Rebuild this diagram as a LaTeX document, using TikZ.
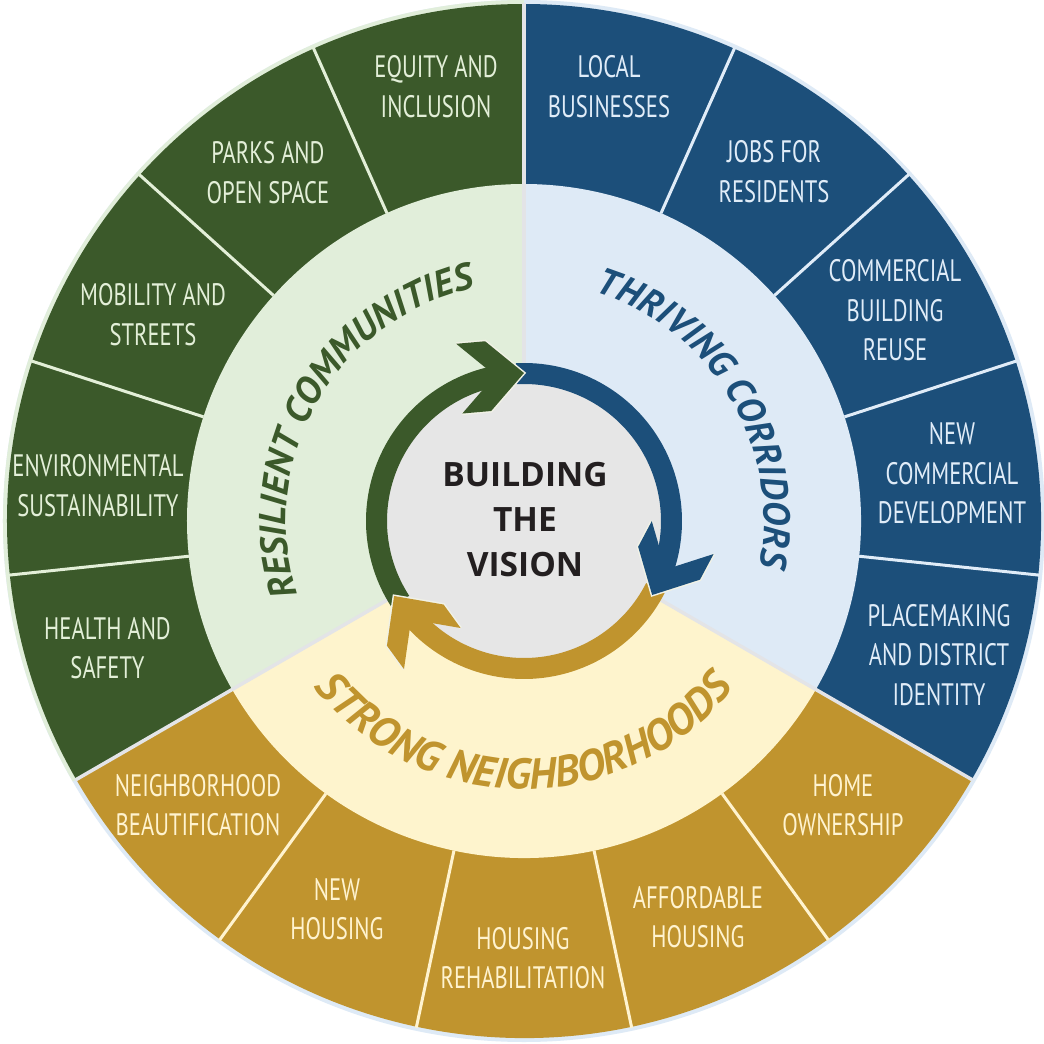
\documentclass[tikz,border=0pt]{standalone}
\usepackage{fontspec}
\usetikzlibrary{decorations.text}
\newfontfamily\condfont[FakeStretch=0.73]{PT Sans}
\newfontfamily\ringfont{PT Sans}
\newfontfamily\centerfont{Open Sans}
\definecolor{dgreen}{HTML}{3B592A}
\definecolor{dblue}{HTML}{1C4F7A}
\definecolor{dgold}{HTML}{C0942E}
\definecolor{lgreen}{HTML}{E1EEDA}
\definecolor{lblue}{HTML}{DEEAF6}
\definecolor{lgold}{HTML}{FEF4CD}
\definecolor{cgray}{HTML}{E6E6E6}
\definecolor{ctext}{HTML}{231F20}
\definecolor{tgreen}{HTML}{E3EFD8}
\definecolor{tblue}{HTML}{E0ECF8}
\definecolor{tgold}{HTML}{FFF3CF}
\definecolor{sepgray}{HTML}{E3E4E7}
\definecolor{headline}{HTML}{F1F2E6}
\begin{document}
\begin{tikzpicture}[x=1pt,y=1pt,
  seg/.style={font=\condfont\fontsize{31}{39.5}\selectfont, anchor=base, inner sep=0pt},
  centertext/.style={font=\centerfont\bfseries\fontsize{33.5}{45}\selectfont, text=ctext, anchor=base, inner sep=0pt},
  shaft/.style={line width=21pt},
  headrim/.style={draw=headline, line width=3pt, line join=miter}
]
\useasboundingbox (-524,-523) rectangle (520,521);
\fill[white] (-524,-523) rectangle (520,521);

% outer border
\fill[lblue] (0,0) circle[radius=521pt];
\fill[lgreen] (0,0) -- (90:521pt) arc[start angle=90, end angle=210, radius=521pt] -- cycle;

% outer segments
\fill[dgreen] (0,0) -- (90:517pt) arc[start angle=90, end angle=210, radius=517pt] -- cycle;
\fill[dblue] (0,0) -- (-30:517pt) arc[start angle=-30, end angle=90, radius=517pt] -- cycle;
\fill[dgold] (0,0) -- (210:517pt) arc[start angle=210, end angle=330, radius=517pt] -- cycle;

% middle ring
\fill[lgreen] (0,0) -- (90:337pt) arc[start angle=90, end angle=210, radius=337pt] -- cycle;
\fill[lblue] (0,0) -- (-30:337pt) arc[start angle=-30, end angle=90, radius=337pt] -- cycle;
\fill[lgold] (0,0) -- (210:337pt) arc[start angle=210, end angle=330, radius=337pt] -- cycle;

% separators
\foreach \a in {114,138,162,186} \draw[tgreen, line width=3pt] (\a:337pt) -- (\a:518pt);
\foreach \a in {66,42,18,-6} \draw[tblue, line width=3pt] (\a:337pt) -- (\a:518pt);
\foreach \a in {234,258,282,306} \draw[tgold, line width=3pt] (\a:337pt) -- (\a:518pt);
\foreach \a in {90,210,330} \draw[sepgray, line width=3.5pt] (\a:150pt) -- (\a:518pt);

% center
\fill[cgray] (0,0) circle[radius=140pt];

% shafts
\draw[shaft, dgreen] (213:147.5pt) arc[start angle=213, end angle=98, radius=147.5pt];
\draw[shaft, dblue] (93:147.5pt) arc[start angle=93, end angle=-22, radius=147.5pt];
\draw[shaft, dgold] (-27:147.5pt) arc[start angle=-27, end angle=-142, radius=147.5pt];

% heads
\begin{scope}[shift={(90:148pt)}, rotate=5]
  \draw[headrim] (-65,35) -- (-36,35) -- (0,0) -- (-36,-35) -- (-65,-35);
  \fill[dgreen] (0,0) -- (-36,35) -- (-65,35) -- (-29,0) -- (-65,-35) -- (-36,-35) -- cycle;
\end{scope}
\begin{scope}[shift={(-30:148pt)}, rotate=242]
  \draw[headrim] (-65,35) -- (-36,35) -- (0,0) -- (-36,-35) -- (-65,-35);
  \fill[dblue] (0,0) -- (-36,35) -- (-65,35) -- (-29,0) -- (-65,-35) -- (-36,-35) -- cycle;
\end{scope}
\begin{scope}[shift={(210:150pt)}, rotate=126]
  \draw[headrim] (-65,35) -- (-36,35) -- (0,0) -- (-36,-35) -- (-65,-35);
  \fill[dgold] (0,0) -- (-36,35) -- (-65,35) -- (-29,0) -- (-65,-35) -- (-36,-35) -- cycle;
\end{scope}

% ring titles
\path[decorate, decoration={text along path, text align=center, text color=dgreen,
  text={|\ringfont\bfseries\itshape\fontsize{37.5}{40}\selectfont|RESILIENT COMMUNITIES}}]
  (220:238pt) arc[start angle=220, end angle=80, radius=238pt];
\path[decorate, decoration={text along path, text align=center, text color=dblue,
  text={|\ringfont\bfseries\itshape\fontsize{37.5}{40}\selectfont|THRIVING CORRIDORS}}]
  (101:240pt) arc[start angle=101, end angle=-39, radius=240pt];
\path[decorate, decoration={text along path, text align=center, text color=dgold,
  text={|\ringfont\bfseries\itshape\fontsize{43}{46}\selectfont|STRONG NEIGHBORHOODS}}]
  (200:268pt) arc[start angle=200, end angle=340, radius=268pt];

% center label
\node[centertext] (vision) at (1,34.3) {\begin{tabular}[t]{@{}c@{}}BUILDING\\THE\\VISION\end{tabular}};

% segment labels
\node[seg, text=tgreen] (equity) at (-88,443) {\begin{tabular}[t]{@{}c@{}}EQUITY AND\\INCLUSION\end{tabular}};
\node[seg, text=tgreen] (parks) at (-256,357) {\begin{tabular}[t]{@{}c@{}}PARKS AND\\OPEN SPACE\end{tabular}};
\node[seg, text=tgreen] (mobility) at (-371,215) {\begin{tabular}[t]{@{}c@{}}MOBILITY AND\\STREETS\end{tabular}};
\node[seg, text=tgreen] (environ) at (-426,44) {\begin{tabular}[t]{@{}c@{}}ENVIRONMENTAL\\SUSTAINABILITY\end{tabular}};
\node[seg, text=tgreen] (health) at (-416.5,-118) {\begin{tabular}[t]{@{}c@{}}HEALTH AND\\SAFETY\end{tabular}};
\node[seg, text=tblue] (local) at (85,443) {\begin{tabular}[t]{@{}c@{}}LOCAL\\BUSINESSES\end{tabular}};
\node[seg, text=tblue] (jobs) at (250,358) {\begin{tabular}[t]{@{}c@{}}JOBS FOR\\RESIDENTS\end{tabular}};
\node[seg, text=tblue] (reuse) at (371,239) {\begin{tabular}[t]{@{}c@{}}COMMERCIAL\\BUILDING\\REUSE\end{tabular}};
\node[seg, text=tblue] (newcom) at (428,76) {\begin{tabular}[t]{@{}c@{}}NEW\\COMMERCIAL\\DEVELOPMENT\end{tabular}};
\node[seg, text=tblue] (place) at (415,-105) {\begin{tabular}[t]{@{}c@{}}PLACEMAKING\\AND DISTRICT\\IDENTITY\end{tabular}};
\node[seg, text=tgold] (beaut) at (-326,-275) {\begin{tabular}[t]{@{}c@{}}NEIGHBORHOOD\\BEAUTIFICATION\end{tabular}};
\node[seg, text=tgold] (newhouse) at (-187,-379) {\begin{tabular}[t]{@{}c@{}}NEW\\HOUSING\end{tabular}};
\node[seg, text=tgold] (rehab) at (-1,-428) {\begin{tabular}[t]{@{}c@{}}HOUSING\\REHABILITATION\end{tabular}};
\node[seg, text=tgold] (afford) at (174,-387) {\begin{tabular}[t]{@{}c@{}}AFFORDABLE\\HOUSING\end{tabular}};
\node[seg, text=tgold] (home) at (319,-275) {\begin{tabular}[t]{@{}c@{}}HOME\\OWNERSHIP\end{tabular}};
\end{tikzpicture}
\end{document}
